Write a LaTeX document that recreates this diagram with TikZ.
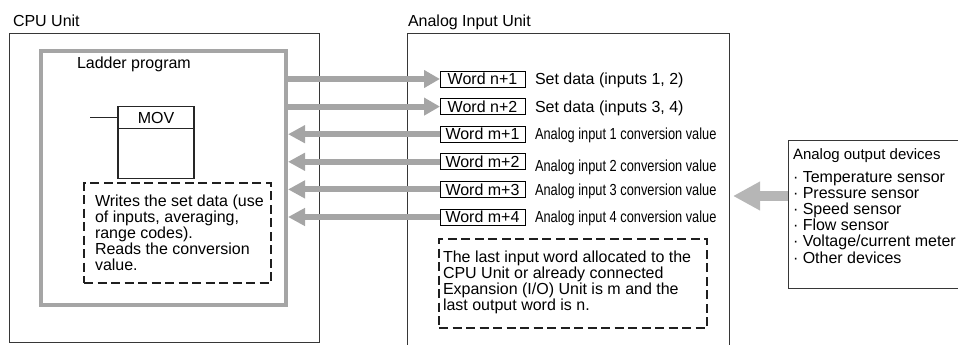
\documentclass[tikz,border=0pt]{standalone}
\usepackage{fontspec}
\setmainfont{Liberation Sans}
\newfontfamily\narrowfont[FakeStretch=0.8]{Liberation Sans}
\usetikzlibrary{arrows.meta}
\definecolor{agray}{RGB}{165,165,165}
\definecolor{lgray}{RGB}{182,182,182}
\definecolor{lineg}{RGB}{55,55,55}
\begin{document}
\begin{tikzpicture}[x=1pt,y=-1pt,
  every node/.style={inner sep=0pt, outer sep=0pt},
  font=\fontsize{16}{16}\selectfont,
  unitbox/.style={draw=lineg, line width=1pt},
  wordbox/.style={draw=black, line width=0.9pt, fill=white, minimum width=85pt, minimum height=16pt},
  lbl/.style={anchor=base west},
  narrowlbl/.style={anchor=base west, font=\narrowfont\fontsize{16}{16}\selectfont},
  dashbox/.style={draw=black!88, line width=2.2pt, dash pattern=on 9pt off 4.5pt},
  outarrow/.style={draw=agray, line width=6pt, -{Triangle[length=16pt,width=17pt]}},
  inarrow/.style={draw=agray, line width=6pt, -{Triangle[length=17pt,width=17pt]}},
  bigarrow/.style={draw=lgray, line width=10pt, -{Triangle[length=27pt,width=27pt]}}]
\useasboundingbox (0,0) rectangle (958,345);
\clip (0,0) rectangle (958,345);

% unit boxes
\node[unitbox, minimum width=310pt, minimum height=308.5pt] (cpu) at (164,188.25) {};
\node[unitbox, minimum width=322pt, minimum height=340pt] (analog) at (568,204) {};
\node[unitbox, minimum width=222pt, minimum height=148pt] (devices) at (899,214) {};
\node[lbl] (cpulbl) at (13,27) {CPU Unit};
\node[lbl] (anlbl) at (408,27) {Analog Input Unit};

% ladder program
\node[draw=agray, line width=4pt, outer sep=2pt, minimum width=245pt, minimum height=254pt] (ladder) at (163.5,178) {};
\node[lbl] (ladlbl) at (77,69) {Ladder program};

% MOV instruction
\node[draw=black!85, line width=1.1pt, minimum width=76pt, minimum height=22pt] (movhead) at (156,117.8) {MOV};
\node[draw=black!85, line width=1.1pt, minimum width=76pt, minimum height=50pt] (movbody) at (156,153.8) {};
\coordinate (rung) at (90,117.8);
\draw[black!85, line width=0.9pt] (rung) -- (movhead.west);

% CPU note
\node[dashbox, minimum width=187pt, minimum height=100pt] (cpunote) at (177.5,233) {};
\node[anchor=north west, align=left] (cputext) at (95,195.4) {Writes the set data (use\\of inputs, averaging,\\range codes).\\Reads the conversion\\value.};

% word boxes
\node[wordbox] (wn1) at (482.5,79) {Word n+1};
\node[wordbox] (wn2) at (482.5,106.6) {Word n+2};
\node[wordbox] (wm1) at (482.5,134.2) {Word m+1};
\node[wordbox] (wm2) at (482.5,161.8) {Word m+2};
\node[wordbox] (wm3) at (482.5,189.4) {Word m+3};
\node[wordbox] (wm4) at (482.5,217) {Word m+4};

\node[lbl] (ln1) at (535,84.5) {Set data (inputs 1, 2)};
\node[lbl] (ln2) at (535,112.1) {Set data (inputs 3, 4)};
\node[narrowlbl] (lm1) at (535,139.7) {Analog input 1 conversion value};
\node[narrowlbl] (lm2) at (535,171.5) {Analog input 2 conversion value};
\node[narrowlbl] (lm3) at (535,195) {Analog input 3 conversion value};
\node[narrowlbl] (lm4) at (535,222.5) {Analog input 4 conversion value};

% data arrows
\draw[outarrow] (ladder.east |- wn1) -- (wn1.west);
\draw[outarrow] (ladder.east |- wn2) -- (wn2.west);
\draw[inarrow] (wm1.west) -- (ladder.east |- wm1);
\draw[inarrow] (wm2.west) -- (ladder.east |- wm2);
\draw[inarrow] (wm3.west) -- (ladder.east |- wm3);
\draw[inarrow] (wm4.west) -- (ladder.east |- wm4);

% analog note
\node[dashbox, minimum width=268pt, minimum height=89pt] (annote) at (573,283.5) {};
\node[anchor=north west, align=left] (antext) at (443,251.3) {The last input word allocated to the\\CPU Unit or already connected\\Expansion (I/O) Unit is m and the\\last output word is n.};

% analog output devices
\node[lbl, font=\fontsize{15}{15}\selectfont] (devtitle) at (793,159) {Analog output devices};
\node[anchor=north west, align=left, font=\fontsize{16}{16.2}\selectfont] (devlist) at (793,171) {· Temperature sensor\\· Pressure sensor\\· Speed sensor\\· Flow sensor\\· Voltage/current meter\\· Other devices};
\coordinate (anin) at (733,196);
\draw[bigarrow] (devices.west |- anin) -- (anin);
\end{tikzpicture}
\end{document}
